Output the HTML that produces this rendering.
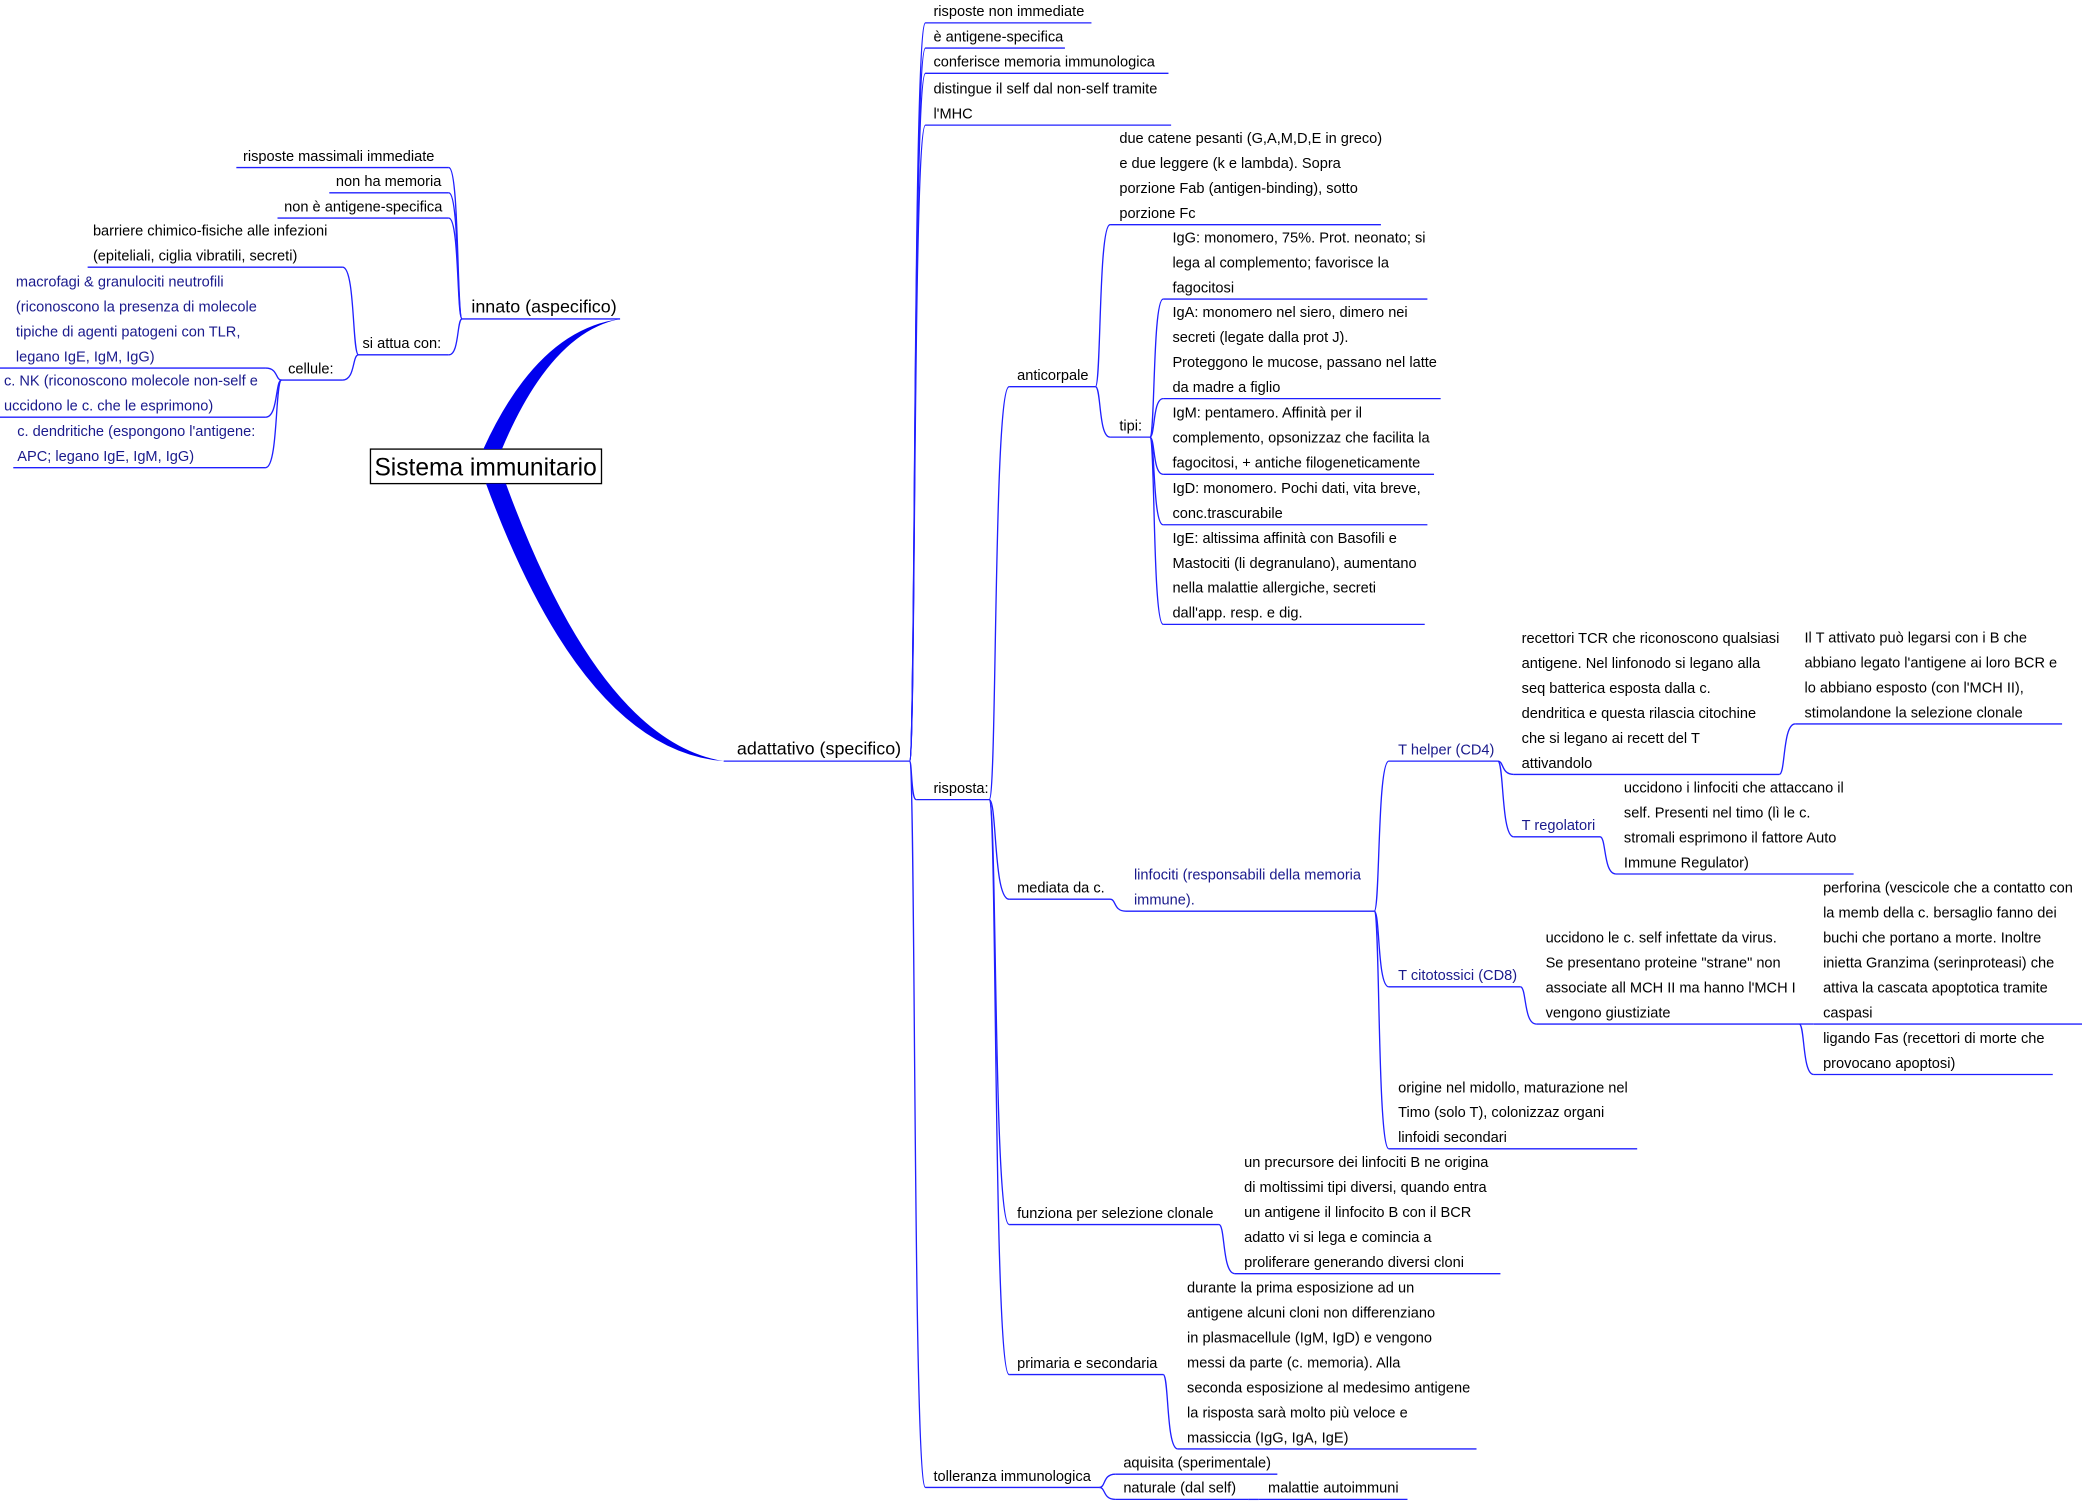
<!DOCTYPE html>
<html><head><meta charset="utf-8"><style>
html,body{margin:0;padding:0;background:#fff;width:2082px;height:1501px;overflow:hidden}
svg{display:block}
text{font-family:"Liberation Sans","DejaVu Sans",sans-serif;font-size:11px;fill:#000}
text.b{fill:#1a1a8c}
</style></head><body>
<svg id="s" width="2082" height="1501" viewBox="0 0 1568 1130" xmlns="http://www.w3.org/2000/svg">
<rect x="279" y="338" width="174" height="26" fill="#fff" stroke="#000" stroke-width="1"/>
<text x="282" y="358" style="font-size:18.5px">Sistema immunitario</text>
<path d="M364,338 Q405,248 467,240 Q415,250 378,338 Z" fill="#0000ee"/>
<path d="M366,364 Q440,565 545,573 Q452,558 381,364 Z" fill="#0000ee"/>
<g id="g" fill="none" stroke="#2020ff" stroke-width="1"></g>
</svg>
<script>
var s=document.getElementById('s'),g=document.getElementById('g'),NS='http://www.w3.org/2000/svg';
function T(x,y,t,c,fs){var e=document.createElementNS(NS,'text');e.setAttribute('x',x);e.setAttribute('y',y);if(c)e.setAttribute('class',c);if(fs)e.style.fontSize=fs;e.textContent=t;s.appendChild(e);}
function P(d){var e=document.createElementNS(NS,'path');e.setAttribute('d',d);g.appendChild(e);}
var N={};
function node(id,tx,lines,ly,x1,x2,c,fs){var n=lines.length;for(var i=0;i<n;i++){T(tx,ly-5-(n-1-i)*18.8,lines[i],c,fs);}P('M'+x1+','+ly+'H'+x2);N[id]={x1:x1,x2:x2,y:ly};}
function C(p,ch,right){var a=N[p],b=N[ch];var px,cx;if(right){px=a.x1;cx=b.x2;}else{px=a.x2;cx=b.x1;}var py=a.y,cy=b.y,dx=cx-px;
P('M'+px+','+py+' C'+(px+dx*0.4)+','+py+' '+(px+dx*0.2)+','+cy+' '+cx+','+cy);}
node('inn',355,['innato (aspecifico)'],240,348,467,null,'13.5px');
node('l1',183,['risposte massimali immediate'],126,178,338);
node('l2',253,['non ha memoria'],145,248,338);
node('l3',214,['non è antigene-specifica'],164,209,338);
node('sat',273,['si attua con:'],267,270,338);
node('bar',70,['barriere chimico-fisiche alle infezioni','(epiteliali, ciglia vibratili, secreti)'],201,66,258);
node('cel',217,['cellule:'],286,212,258);
node('mac',12,['macrofagi & granulociti neutrofili','(riconoscono la presenza di molecole','tipiche di agenti patogeni con TLR,','legano IgE, IgM, IgG)'],277,0,200,'b');
node('nk',3,['c. NK (riconoscono molecole non-self e','uccidono le c. che le esprimono)'],314,0,200,'b');
node('den',13,['c. dendritiche (espongono l\'antigene:','APC; legano IgE, IgM, IgG)'],352,10,200,'b');
['l1','l2','l3','sat'].forEach(function(k){C('inn',k,1)});
['bar','cel'].forEach(function(k){C('sat',k,1)});
['mac','nk','den'].forEach(function(k){C('cel',k,1)});
node('ad',555,['adattativo (specifico)'],573,545,685,null,'13.5px');
node('a1',703,['risposte non immediate'],17,697,822);
node('a2',703,['è antigene-specifica'],36,697,802);
node('a3',703,['conferisce memoria immunologica'],55,697,880);
node('a4',703,['distingue il self dal non-self tramite','l\'MHC'],94,697,882);
node('ris',703,['risposta:'],602,690,745);
node('tol',703,['tolleranza immunologica'],1120,697,828);
['a1','a2','a3','a4','ris','tol'].forEach(function(k){C('ad',k)});
node('anti',766,['anticorpale'],291,760,825);
node('med',766,['mediata da c.'],677,760,836);
node('fun',766,['funziona per selezione clonale'],922,760,918);
node('pri',766,['primaria e secondaria'],1035,760,876);
['anti','med','fun','pri'].forEach(function(k){C('ris',k)});
node('due',843,['due catene pesanti (G,A,M,D,E in greco)','e due leggere (k e lambda). Sopra','porzione Fab (antigen-binding), sotto','porzione Fc'],169,836,1040);
node('tipi',843,['tipi:'],329,836,866);
C('anti','due');C('anti','tipi');
node('igg',883,['IgG: monomero, 75%. Prot. neonato; si','lega al complemento; favorisce la','fagocitosi'],225,876,1075);
node('iga',883,['IgA: monomero nel siero, dimero nei','secreti (legate dalla prot J).','Proteggono le mucose, passano nel latte','da madre a figlio'],300,876,1085);
node('igm',883,['IgM: pentamero. Affinità per il','complemento, opsonizzaz che facilita la','fagocitosi, + antiche filogeneticamente'],357,876,1080);
node('igd',883,['IgD: monomero. Pochi dati, vita breve,','conc.trascurabile'],395,876,1075);
node('ige',883,['IgE: altissima affinità con Basofili e','Mastociti (li degranulano), aumentano','nella malattie allergiche, secreti','dall\'app. resp. e dig.'],470,876,1073);
['igg','iga','igm','igd','ige'].forEach(function(k){C('tipi',k)});
node('lin',854,['linfociti (responsabili della memoria','immune).'],686,848,1035,'b');
C('med','lin');
node('th',1053,['T helper (CD4)'],573,1046,1128,'b');
node('tc',1053,['T citotossici (CD8)'],743,1046,1145,'b');
node('ori',1053,['origine nel midollo, maturazione nel','Timo (solo T), colonizzaz organi','linfoidi secondari'],865,1046,1233);
['th','tc','ori'].forEach(function(k){C('lin',k)});
node('tcr',1146,['recettori TCR che riconoscono qualsiasi','antigene. Nel linfonodo si legano alla','seq batterica esposta dalla c.','dendritica e questa rilascia citochine','che si legano ai recett del T','attivandolo'],583,1140,1340);
node('treg',1146,['T regolatori'],630,1140,1205,'b');
C('th','tcr');C('th','treg');
node('ilt',1359,['Il T attivato può legarsi con i B che','abbiano legato l\'antigene ai loro BCR e','lo abbiano esposto (con l\'MCH II),','stimolandone la selezione clonale'],545,1352,1553);
C('tcr','ilt');
node('ucc',1223,['uccidono i linfociti che attaccano il','self. Presenti nel timo (lì le c.','stromali esprimono il fattore Auto','Immune Regulator)'],658,1217,1396);
C('treg','ucc');
node('uv',1164,['uccidono le c. self infettate da virus.','Se presentano proteine "strane" non','associate all MCH II ma hanno l\'MCH I','vengono giustiziate'],771,1157,1355);
C('tc','uv');
node('per',1373,['perforina (vescicole che a contatto con','la memb della c. bersaglio fanno dei','buchi che portano a morte. Inoltre','inietta Granzima (serinproteasi) che','attiva la cascata apoptotica tramite','caspasi'],771,1366,1568);
node('fas',1373,['ligando Fas (recettori di morte che','provocano apoptosi)'],809,1366,1546);
C('uv','per');C('uv','fas');
node('pre',937,['un precursore dei linfociti B ne origina','di moltissimi tipi diversi, quando entra','un antigene il linfocito B con il BCR','adatto vi si lega e comincia a','proliferare generando diversi cloni'],959,930,1130);
C('fun','pre');
node('dur',894,['durante la prima esposizione ad un','antigene alcuni cloni non differenziano','in plasmacellule (IgM, IgD) e vengono','messi da parte (c. memoria). Alla','seconda esposizione al medesimo antigene','la risposta sarà molto più veloce e','massiccia (IgG, IgA, IgE)'],1091,887,1112);
C('pri','dur');
node('aq',846,['aquisita (sperimentale)'],1110,840,962);
node('nat',846,['naturale (dal self)'],1129,840,940);
C('tol','aq');C('tol','nat');
node('mal',955,['malattie autoimmuni'],1129,948,1060);
C('nat','mal');
</script>
</body></html>
